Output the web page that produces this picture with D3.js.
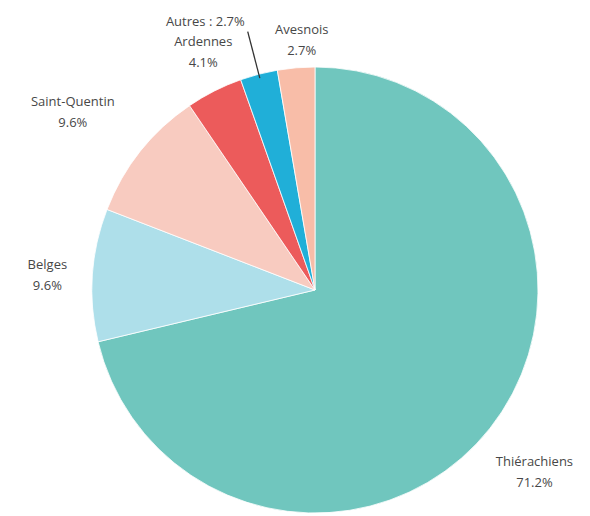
<!DOCTYPE html>
<html>
<head>
<meta charset="utf-8">
<script src="https://cdn.jsdelivr.net/npm/d3@7"></script>
<style>
  body { margin: 0; background: #fff; }
  text { font-family: "Open Sans", sans-serif; font-size: 13px; fill: #474747; }
</style>
</head>
<body>
<svg id="chart"></svg>
<script>
// origin of the visitors, clockwise from 12 o'clock
var labels = ["Thiérachiens", "Belges", "Saint-Quentin", "Ardennes", "Autres", "Avesnois"];
var values = [71.2, 9.6, 9.6, 4.1, 2.7, 2.7];
var colors = ["#70c6be", "#aedfea", "#f8cbc0", "#ec5b5b", "#20afd8", "#f8bda8"];

var w = 590, h = 516;
var cx = 315, cy = 290, r = 223;

// label block placement: distance from pie centre and small turn (deg) off the slice middle
var labelDist = [286, 268, 300, 262, 267, 249];
var labelTurn = [1.6, -0.8, -2.3, 1.6, 0, 1.8];

var svg = d3.select("#chart").attr("width", w).attr("height", h);
var g = svg.append("g").attr("transform", "translate(" + cx + "," + cy + ")");

var data = labels.map(function(l, i) { return { label: l, value: values[i], color: colors[i] }; });

var pie = d3.pie().value(function(d) { return d.value; }).sort(null);
var arc = d3.arc().innerRadius(0).outerRadius(r);
var arcs = pie(data);

g.selectAll("path.slice")
  .data(arcs)
  .enter().append("path")
  .attr("class", "slice")
  .attr("d", arc)
  .attr("fill", function(d) { return d.data.color; })
  .attr("stroke", "#fff")
  .attr("stroke-width", 0.8);

function fmt(v) { return v.toFixed(1) + "%"; }
function mid(d) { return (d.startAngle + d.endAngle) / 2; }
function polar(a, rad) { return [rad * Math.sin(a), -rad * Math.cos(a)]; }

var lineH = 21;

arcs.forEach(function(d, i) {
  var a = mid(d) + labelTurn[i] * Math.PI / 180;
  if (d.data.label === "Autres") {
    // too thin for its own label: leader line up and out
    var p1 = polar(a, r - 4), p2 = polar(a, labelDist[i]);
    g.append("line")
      .attr("x1", p1[0]).attr("y1", p1[1])
      .attr("x2", p2[0]).attr("y2", p2[1])
      .attr("stroke", "#333").attr("stroke-width", 1.3);
    g.append("text")
      .attr("x", p2[0] - 3).attr("y", p2[1] - 9)
      .attr("text-anchor", "end")
      .attr("dominant-baseline", "middle")
      .text(d.data.label + " : " + fmt(d.data.value));
    return;
  }
  var p = polar(a, labelDist[i]);
  var t = g.append("text")
    .attr("text-anchor", "middle")
    .attr("transform", "translate(" + p[0] + "," + p[1] + ")");
  t.append("tspan").attr("x", 0).attr("y", -lineH / 2).attr("dominant-baseline", "middle").text(d.data.label);
  t.append("tspan").attr("x", 0).attr("y", lineH / 2).attr("dominant-baseline", "middle").text(fmt(d.data.value));
});
</script>
</body>
</html>
